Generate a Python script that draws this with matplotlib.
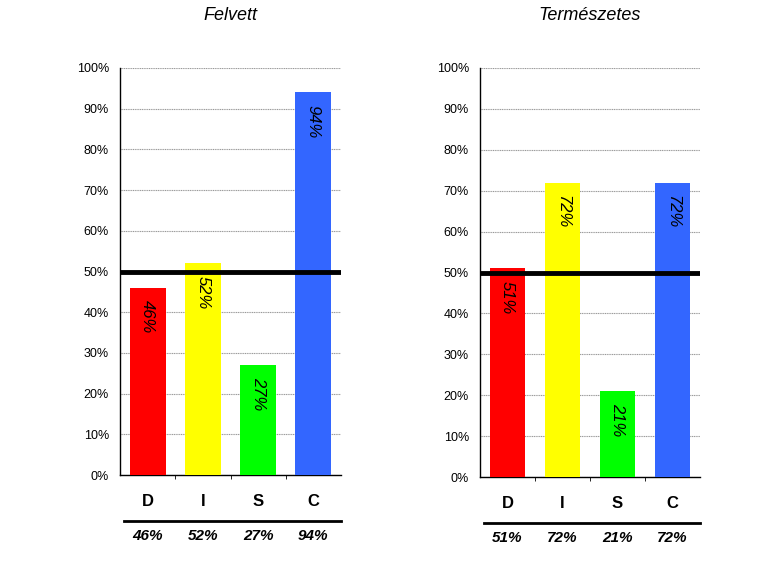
import matplotlib
matplotlib.use("Agg")
import matplotlib.pyplot as plt
from matplotlib.ticker import FuncFormatter

plt.rcParams['font.family'] = ['Liberation Sans', 'DejaVu Sans']

categories = ["D", "I", "S", "C"]
titles = ["Felvett", "Természetes"]
felvett = [46, 52, 27, 94]
termeszetes = [51, 72, 21, 72]
series = [felvett, termeszetes]
colors = ["#FF0000", "#FFFF00", "#00FF00", "#3366FF"]
yticks = list(range(0, 101, 10))

fig = plt.figure(figsize=(7.75, 5.79), dpi=100)
rects = [(120/775, 1-475/579, 221/775, 407/579),
         (480/775, 1-477/579, 220/775, 409/579)]

for rect, title, vals in zip(rects, titles, series):
    ax = fig.add_axes(rect)
    x = list(range(len(categories)))
    ax.bar(x, vals, width=0.65, color=colors, zorder=3)
    ax.set_xlim(-0.5, len(categories) - 0.5)
    ax.set_ylim(0, 100)
    ax.set_yticks(yticks)
    ax.yaxis.set_major_formatter(FuncFormatter(lambda v, p: f"{int(v)}%"))
    ax.tick_params(axis='y', labelsize=9, length=0, pad=8)
    ax.grid(axis='y', color='#999999', linestyle=(0, (1, 0.6)), linewidth=0.8, zorder=0)
    ax.axhline(50, color='black', linewidth=3.5, zorder=4)
    ax.set_xticks(x)
    ax.set_xticklabels(categories, fontsize=12, fontweight='bold')
    ax.tick_params(axis='x', length=0, pad=14)
    ax.set_xticks([0.5, 1.5, 2.5], minor=True)
    ax.tick_params(axis='x', which='minor', length=3, direction='out')
    for s in ['top', 'right']:
        ax.spines[s].set_visible(False)
    ax.spines['left'].set_linewidth(1.0)
    ax.spines['bottom'].set_linewidth(1.0)
    cx = rect[0] + rect[2] / 2
    fig.text(cx, 1 - 15/579, title, fontsize=13, fontstyle='italic',
             ha='center', va='center')
    for xi, v in zip(x, vals):
        ax.text(xi, v - 3, f"{v}%", rotation=270, ha='center', va='top',
                fontsize=12, fontstyle='italic', zorder=5)
        ax.text(xi, -0.15, f"{v}%", transform=ax.get_xaxis_transform(),
                ha='center', va='center', fontsize=11, fontstyle='italic',
                fontweight='bold')
    ax.plot([0.02, 1.0], [-0.113, -0.113], transform=ax.transAxes,
            color='black', linewidth=2, clip_on=False)

fig.savefig("out.png", dpi=100)
